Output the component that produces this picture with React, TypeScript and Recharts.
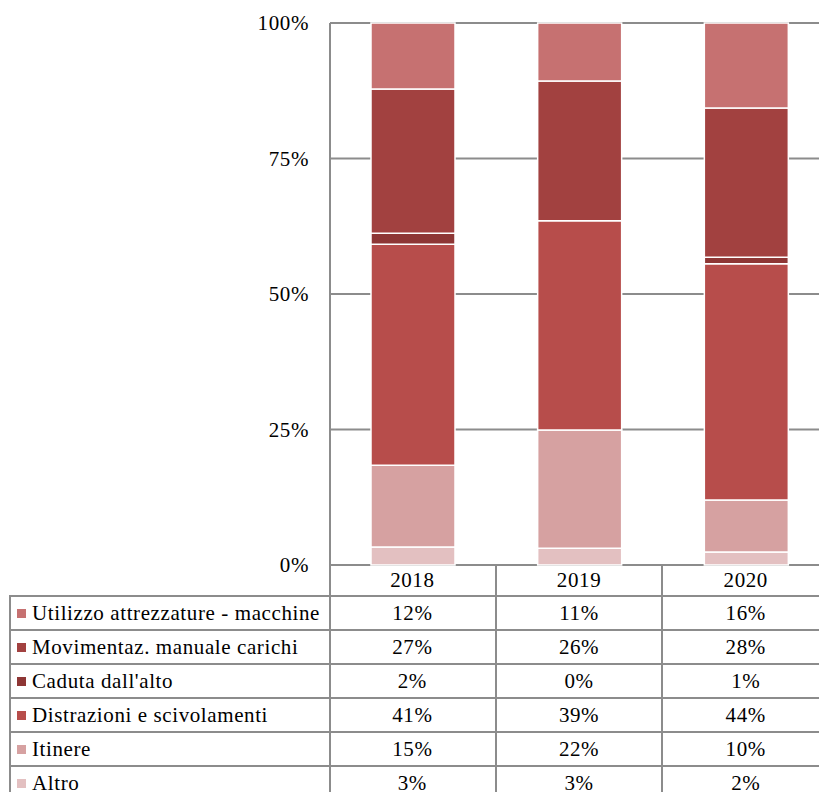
import { BarChart, Bar, XAxis, YAxis, CartesianGrid } from "recharts";

const years = ["2018", "2019", "2020"];

// values in percent, bottom to top of each stack
const altro = [3.3, 3.1, 2.4];
const itinere = [15.1, 21.8, 9.6];
const distrazioni = [40.8, 38.6, 43.6];
const caduta = [2.0, 0, 1.2];
const movimentaz = [26.6, 25.8, 27.5];
const utilizzo = [12.2, 10.7, 15.7];

const yTicks = [0, 25, 50, 75, 100];

const series = [
  { key: "altro", name: "Altro", values: altro, color: "#E3C0C1" },
  { key: "itinere", name: "Itinere", values: itinere, color: "#D6A1A1" },
  { key: "distrazioni", name: "Distrazioni e scivolamenti", values: distrazioni, color: "#B74D4B" },
  { key: "caduta", name: "Caduta dall'alto", values: caduta, color: "#8E3635" },
  { key: "movimentaz", name: "Movimentaz. manuale carichi", values: movimentaz, color: "#A24140" },
  { key: "utilizzo", name: "Utilizzo attrezzature - macchine", values: utilizzo, color: "#C67171" },
];

const data = years.map((year, i) => {
  const row: Record<string, string | number> = { year };
  series.forEach((s) => {
    row[s.key] = s.values[i];
  });
  return row;
});

const FONT = "'Liberation Serif', serif";
const FS = 21;
const LS = 0.6;
const GRID = "#8c8c8c";
const PLOT_LEFT = 330;
const COL_W = 166.7;
const HEADER_TOP = 565;
const HEADER_H = 30;
const ROW_H = 34;

export default function App() {
  const tableRows = [...series].reverse();

  return (
    <div
      style={{
        position: "absolute",
        left: 0,
        top: 0,
        width: 819,
        height: 792,
        overflow: "hidden",
        background: "#fff",
        fontFamily: FONT,
        letterSpacing: LS,
      }}
    >
      <BarChart
        width={840}
        height={590}
        data={data}
        margin={{ top: 23, right: 10, left: 0, bottom: 25 }}
        barSize={84}
      >
        <CartesianGrid vertical={false} stroke={GRID} strokeWidth={2} />
        <XAxis dataKey="year" hide />
        <YAxis
          width={PLOT_LEFT}
          domain={[0, 100]}
          ticks={yTicks}
          tickFormatter={(v: number) => `${v}%`}
          tickSize={0}
          tickMargin={21}
          axisLine={{ stroke: GRID, strokeWidth: 2 }}
          tick={{ fontSize: FS, fill: "#000", fontFamily: FONT, letterSpacing: LS }}
          interval={0}
        />
        {series.map((s) => (
          <Bar
            key={s.key}
            dataKey={s.key}
            stackId="a"
            fill={s.color}
            stroke="#fff"
            strokeWidth={1.5}
            isAnimationActive={false}
          />
        ))}
      </BarChart>

      {/* vertical axis line continues down through the table */}
      <div
        style={{
          position: "absolute",
          left: PLOT_LEFT - 1,
          top: HEADER_TOP,
          width: 2,
          height: 792 - HEADER_TOP,
          background: GRID,
        }}
      />

      {years.map((y, i) => (
        <div
          key={y}
          style={{
            position: "absolute",
            left: PLOT_LEFT + i * COL_W,
            top: HEADER_TOP,
            width: COL_W,
            height: HEADER_H,
            lineHeight: `${HEADER_H}px`,
            textAlign: "center",
            fontSize: FS,
            borderRight: `2px solid ${GRID}`,
            boxSizing: "border-box",
          }}
        >
          {y}
        </div>
      ))}

      {tableRows.map((s, r) => {
        const top = HEADER_TOP + HEADER_H + r * ROW_H;
        return (
          <div key={s.key}>
            <div
              style={{
                position: "absolute",
                left: 9,
                top,
                width: PLOT_LEFT - 9,
                height: ROW_H,
                borderLeft: `2px solid ${GRID}`,
                borderTop: `2px solid ${GRID}`,
                boxSizing: "border-box",
                display: "flex",
                alignItems: "center",
                fontSize: FS,
                whiteSpace: "nowrap",
              }}
            >
              <span
                style={{
                  display: "inline-block",
                  width: 9,
                  height: 9,
                  background: s.color,
                  marginLeft: 6,
                  marginRight: 6,
                }}
              />
              {s.name}
            </div>
            {s.values.map((v, i) => (
              <div
                key={i}
                style={{
                  position: "absolute",
                  left: PLOT_LEFT + i * COL_W,
                  top,
                  width: COL_W,
                  height: ROW_H,
                  borderTop: `2px solid ${GRID}`,
                  borderRight: `2px solid ${GRID}`,
                  boxSizing: "border-box",
                  textAlign: "center",
                  lineHeight: `${ROW_H - 2}px`,
                  fontSize: FS,
                }}
              >
                {Math.round(v)}%
              </div>
            ))}
          </div>
        );
      })}
    </div>
  );
}
